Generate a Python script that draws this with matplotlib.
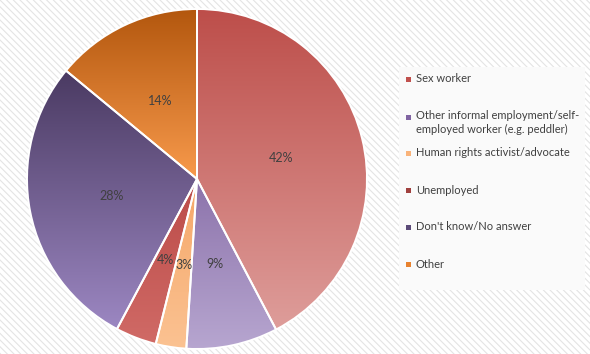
import numpy as np
import matplotlib
matplotlib.use("Agg")
import matplotlib.pyplot as plt
from matplotlib.colors import to_rgb
from matplotlib.patches import Rectangle

plt.rcParams['font.family'] = ['Lato', 'DejaVu Sans']
plt.rcParams['hatch.linewidth'] = 0.8

# data
labels = ['Sex worker',
          'Other informal employment/self-\nemployed worker (e.g. peddler)',
          'Human rights activist/advocate',
          'Unemployed',
          "Don't know/No answer",
          'Other']
shares = [42.3, 8.7, 2.9, 3.9, 28.2, 14.0]

# gradient colours per slice (top, bottom)
tops = ['#bd4e4a', '#8c73ab', '#f5a768', '#bb4b48', '#4a3a62', '#b3570e']
bots = ['#de9d9a', '#b7a6d0', '#fbc292', '#d06a66', '#9c87c2', '#f89a4c']
keys = ['#c0504d', '#8064a2', '#f9b37a', '#a0403e', '#5b4a78', '#e8822f']

fig = plt.figure(figsize=(5.9, 3.54), dpi=100)
fig.patch.set_facecolor('white')

# striped background
bg = Rectangle((0, 0), 1, 1, transform=fig.transFigure, facecolor='white',
               edgecolor='#e4e4e4', hatch='\\\\\\\\\\', linewidth=0, zorder=-10)
fig.patches.append(bg)

# legend panel
fig.patches.append(Rectangle((399/590, 1 - 290/354), 186/590, 223/354,
                             transform=fig.transFigure, facecolor='#fafafa',
                             edgecolor='none', zorder=-5))

cx, cy, r = 197, 179, 170
ax = fig.add_axes([(cx - r)/590, (354 - cy - r)/354, 2*r/590, 2*r/354])
ax.set_facecolor('none')

wedges, texts, autotexts = ax.pie(
    shares, startangle=90, counterclock=False, autopct='%.0f%%',
    pctdistance=0.51, radius=1,
    wedgeprops=dict(edgecolor='white', linewidth=1.4),
    textprops=dict(fontsize=9, color='#404040'))

for w, t, b in zip(wedges, tops, bots):
    ext = w.get_path().get_extents()
    grad = np.linspace(0, 1, 256)[:, None, None]
    img = np.array(to_rgb(b))[None, None, :] * (1 - grad) + np.array(to_rgb(t))[None, None, :] * grad
    im = ax.imshow(img, extent=[ext.x0, ext.x1, ext.y0, ext.y1], origin='lower',
                   aspect='auto', zorder=1.5, interpolation='bilinear')
    im.set_clip_path(w)
    w.set_facecolor('none')
    w.set_zorder(2)

for a in autotexts:
    a.set_zorder(3)

ax.set_xlim(-1, 1)
ax.set_ylim(-1, 1)
ax.set_aspect('equal')
ax.axis('off')

# legend entries
ys = [79, 117, 153, 190, 227, 264]
for y, lab, k in zip(ys, labels, keys):
    fig.patches.append(Rectangle((406/590, 1 - (y + 3)/354), 5/590, 5/354,
                                 transform=fig.transFigure, facecolor=k,
                                 edgecolor='none'))
    if '\n' in lab:
        fig.text(416/590, 1 - (y - 7)/354, lab, fontsize=8, color='#404040',
                 va='top', ha='left', linespacing=1.3)
    else:
        fig.text(416/590, 1 - y/354, lab, fontsize=8, color='#404040',
                 va='center', ha='left')

fig.savefig('out.png', dpi=100)
